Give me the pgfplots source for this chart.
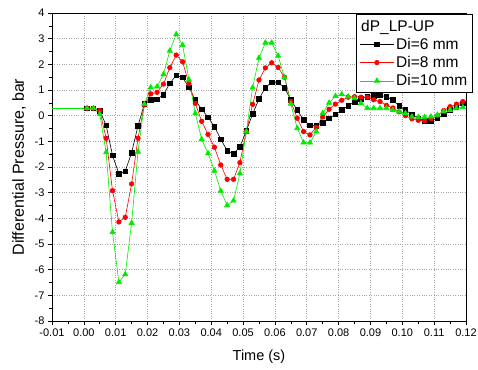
\documentclass[border=0pt]{standalone}
\usepackage{pgfplots}
\pgfplotsset{compat=1.18}
\usepackage{pgfplotstable}
\usepackage{fontspec}
\setmainfont{Liberation Sans}
\definecolor{lime}{RGB}{0,235,0}

\pgfplotstableread{
x y6 y8 y10
0.001 0.29 0.29 0.29
0.003 0.29 0.29 0.29
0.005 0.20 0.20 0.06
0.007 -0.38 -0.88 -1.43
0.009 -1.55 -2.92 -4.54
0.011 -2.26 -4.14 -6.49
0.013 -2.17 -3.96 -6.18
0.015 -1.44 -2.66 -4.18
0.017 -0.40 -0.88 -1.41
0.019 0.46 0.42 0.45
0.021 0.61 0.85 1.10
0.023 0.64 0.91 1.13
0.025 0.82 1.23 1.61
0.027 1.26 1.87 2.53
0.029 1.57 2.36 3.17
0.031 1.49 2.10 2.75
0.033 1.10 1.25 1.40
0.035 0.61 0.48 0.09
0.037 0.25 -0.22 -0.92
0.039 -0.06 -0.73 -1.47
0.041 -0.43 -1.23 -2.15
0.043 -0.92 -1.92 -2.93
0.045 -1.36 -2.48 -3.49
0.047 -1.49 -2.48 -3.31
0.049 -1.21 -1.83 -2.25
0.051 -0.60 -0.62 -0.62
0.053 0.07 0.44 1.09
0.055 0.65 1.39 2.25
0.057 1.09 1.86 2.84
0.059 1.30 2.06 2.84
0.061 1.30 1.88 2.33
0.063 1.08 1.50 1.49
0.065 0.62 0.55 0.46
0.067 0.22 -0.10 -0.49
0.069 -0.17 -0.62 -1.05
0.071 -0.38 -0.75 -1.05
0.073 -0.39 -0.45 -0.62
0.075 -0.27 -0.05 0.10
0.077 -0.10 0.25 0.50
0.079 0.05 0.45 0.76
0.081 0.22 0.60 0.83
0.083 0.38 0.72 0.74
0.085 0.55 0.74 0.68
0.087 0.66 0.72 0.48
0.089 0.74 0.72 0.29
0.091 0.78 0.62 0.29
0.093 0.79 0.55 0.29
0.095 0.74 0.40 0.29
0.097 0.61 0.30 0.22
0.099 0.38 0.15 0.16
0.101 0.22 0.00 0.09
0.103 0.05 -0.12 -0.04
0.105 -0.10 -0.18 -0.06
0.107 -0.19 -0.20 -0.06
0.109 -0.19 -0.12 -0.04
0.111 -0.10 0.00 0.03
0.113 0.05 0.20 0.16
0.115 0.22 0.35 0.22
0.117 0.35 0.45 0.29
0.119 0.48 0.55 0.33
}\datatable

\begin{document}
\begin{tikzpicture}
\useasboundingbox (-52pt,-48pt) rectangle (426pt,321pt);
\begin{axis}[
  at={(0pt,0pt)}, anchor=south west,
  scale only axis, width=414pt, height=308pt,
  xmin=-0.01, xmax=0.12, ymin=-8, ymax=4,
  xtick={-0.01,0,0.01,0.02,0.03,0.04,0.05,0.06,0.07,0.08,0.09,0.10,0.11,0.12},
  ytick={-8,-7,...,4},
  minor x tick num=1, minor y tick num=1,
  xtick pos=left, ytick pos=left,
  tick align=outside,
  major tick length=4pt, minor tick length=2.5pt,
  every tick/.style={black, line width=0.6pt},
  axis line style={line width=0.9pt},
  grid=major,
  major grid style={gray!70, dotted, line width=0.6pt},
  scaled x ticks=false,
  x tick label style={/pgf/number format/.cd, fixed, fixed zerofill, precision=2, /tikz/.cd, font=\fontsize{11}{13}\selectfont},
  y tick label style={font=\fontsize{11}{13}\selectfont},
  /pgf/number format/assume math mode=true,
  xlabel={Time (s)}, ylabel={Differential Pressure, bar},
  xlabel style={font=\fontsize{14.5}{16}\selectfont, yshift=-7pt},
  ylabel style={font=\fontsize{16}{18}\selectfont, yshift=2pt},
  legend image code/.code={\draw[mark repeat=2, mark phase=2, #1] plot coordinates {(0pt,0pt) (17pt,0pt) (34pt,0pt)};},
  legend style={at={(1.016,0.997)}, anchor=north east, draw=black, line width=0.7pt,
    font=\fontsize{15.5}{17}\selectfont, row sep=1.5pt, inner xsep=3pt, inner ysep=3.5pt, fill=white},
  legend cell align=left,
]
\addlegendimage{empty legend}
\addlegendentry{\hspace*{-35pt}dP\_LP-UP}
\addplot[black, line width=0.6pt, no marks, forget plot] coordinates {(-0.01,0.29) (0.001,0.29)};
\addplot[black, line width=0.6pt, mark=square*, mark size=2.3pt] table[x=x,y=y6]{\datatable};
\addlegendentry{Di=6 mm}
\addplot[red, line width=0.6pt, mark=*, mark size=2.3pt] table[x=x,y=y8]{\datatable};
\addlegendentry{Di=8 mm}
\addplot[lime, line width=0.6pt, mark=triangle*, mark size=3pt] table[x=x,y=y10]{\datatable};
\addlegendentry{Di=10 mm}
\addplot[lime, line width=0.6pt, no marks, forget plot] coordinates {(-0.01,0.29) (0.001,0.29)};
\end{axis}
\end{tikzpicture}
\end{document}
